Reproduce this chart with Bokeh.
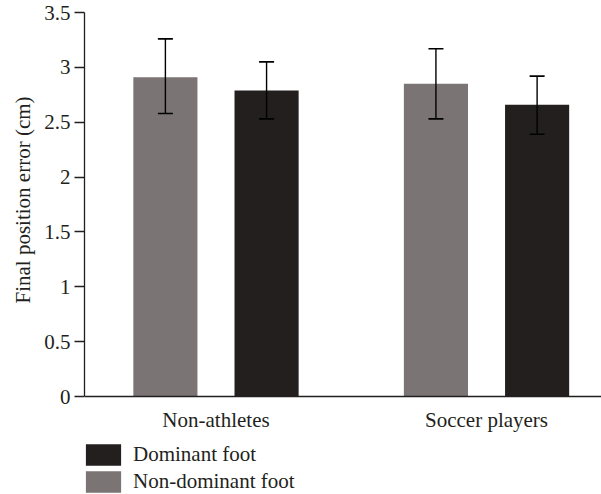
from bokeh.plotting import figure
from bokeh.models import Range1d, FixedTicker, ColumnDataSource, Whisker, TeeHead, Legend, LegendItem, Span, Title
from bokeh.core.properties import value
from bokeh.embed import file_html
from bokeh.resources import INLINE

groups = ["Non-athletes", "Soccer players"]
series = ["Non-dominant foot", "Dominant foot"]
nondominant = [2.91, 2.85]
nondominant_lo = [2.58, 2.53]
nondominant_hi = [3.26, 3.17]
dominant = [2.79, 2.66]
dominant_lo = [2.53, 2.39]
dominant_hi = [3.05, 2.92]
y_ticks = [0, 0.5, 1, 1.5, 2, 2.5, 3, 3.5]
y_tick_labels = ["0", "0.5", "1", "1.5", "2", "2.5", "3", "3.5"]
y_label = "Final position error (cm)"

FONT = "Liberation Serif"
FS = "21px"
GRAY = "#7a7574"
BLACK = "#231f1e"
INK = "#231f20"
DODGE = 0.187
BAR_W = 0.237

p = figure(width=601, height=494, output_backend="svg", toolbar_location=None,
           x_range=Range1d(-0.486, 1.425), y_range=Range1d(-0.8932, 3.5),
           min_border_left=84, min_border_right=0, min_border_top=12, min_border_bottom=0)
p.outline_line_color = None
p.grid.visible = False
p.background_fill_color = "white"
p.xaxis.visible = False

idx = list(range(len(groups)))
src_nd = ColumnDataSource(dict(x=[i - DODGE for i in idx], top=nondominant, lo=nondominant_lo, hi=nondominant_hi))
src_d = ColumnDataSource(dict(x=[i + DODGE for i in idx], top=dominant, lo=dominant_lo, hi=dominant_hi))

r_nd = p.vbar(x="x", top="top", width=BAR_W, bottom=0, source=src_nd, fill_color=GRAY, line_color=None)
r_d = p.vbar(x="x", top="top", width=BAR_W, bottom=0, source=src_d, fill_color=BLACK, line_color=None)

for src in (src_nd, src_d):
    w = Whisker(base="x", upper="hi", lower="lo", source=src, level="overlay",
                line_color="black", line_width=1.4,
                upper_head=TeeHead(size=15, line_color="black", line_width=1.6),
                lower_head=TeeHead(size=15, line_color="black", line_width=1.6))
    p.add_layout(w)

# x axis line at zero and category labels
p.add_layout(Span(location=0, dimension="width", line_color=INK, line_width=1.3))
lab_src = ColumnDataSource(dict(x=idx, y=[0] * len(idx), text=groups))
p.text(x="x", y="y", text="text", source=lab_src, text_align="center", text_baseline="alphabetic",
       y_offset=23, text_font=value(FONT), text_font_size=FS, text_color=INK)

# y axis
yax = p.yaxis[0]
yax.bounds = (0, 3.5)
yax.ticker = FixedTicker(ticks=y_ticks)
yax.major_label_overrides = {t: l for t, l in zip(y_ticks, y_tick_labels)}
yax.minor_tick_line_color = None
yax.major_tick_in = 0
yax.major_tick_out = 10
yax.major_tick_line_color = INK
yax.major_tick_line_width = 1.3
yax.axis_line_color = INK
yax.axis_line_width = 1.3
yax.major_label_text_font = FONT
yax.major_label_text_font_size = FS
yax.major_label_text_color = INK
yax.major_label_standoff = 4

# y-axis title placed as a left-side title so it can be centred on the 0..3.5 span
ytitle = Title(text=y_label, align="left", offset=191, text_font=FONT, text_font_size=FS,
               text_font_style="normal", text_color=INK, standoff=13)
p.add_layout(ytitle, "left")

legend = Legend(items=[LegendItem(label=series[1], renderers=[r_d]),
                       LegendItem(label=series[0], renderers=[r_nd])],
                location=(-3, -1), orientation="vertical",
                padding=0, margin=0, spacing=0, border_line_color=None,
                background_fill_alpha=0, glyph_width=44, glyph_height=27,
                label_standoff=8, label_text_font=FONT, label_text_font_size=FS,
                label_text_color=INK, label_height=27)
p.add_layout(legend, "center")

open("out.html", "w").write(file_html(p, INLINE))
